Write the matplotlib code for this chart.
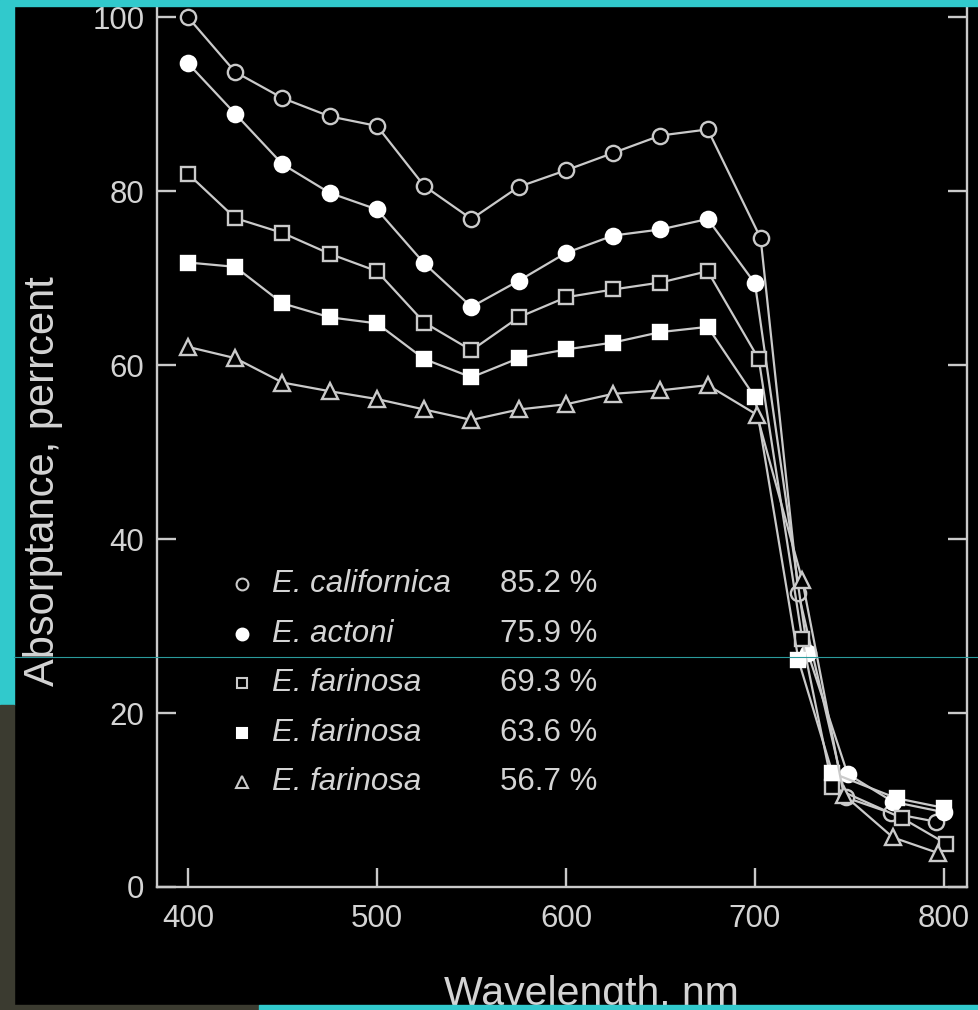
import numpy as np
import matplotlib
matplotlib.use('Agg')
import matplotlib.pyplot as plt
from matplotlib.patches import Rectangle
from matplotlib.lines import Line2D

########################################################################
# DATA
########################################################################
wl_visible = [400, 425, 450, 475, 500, 525, 550, 575, 600, 625, 650, 675]

wl_californica = wl_visible + [703, 723, 748, 772, 796]
abs_californica = [100.0, 93.7, 90.7, 88.6, 87.5, 80.6, 76.8, 80.5, 82.4, 84.4, 86.4, 87.1,
                   74.6, 33.8, 10.3, 8.5, 7.5]

wl_actoni = wl_visible + [700, 728, 749, 773, 800]
abs_actoni = [94.7, 88.9, 83.1, 79.8, 77.9, 71.7, 66.7, 69.7, 72.9, 74.9, 75.6, 76.8,
              69.4, 26.9, 13.0, 9.8, 8.6]

wl_farinosa_1 = wl_visible + [702, 725, 741, 778, 801]
abs_farinosa_1 = [82.0, 76.9, 75.2, 72.8, 70.8, 64.9, 61.7, 65.5, 67.8, 68.7, 69.5, 70.8,
                  60.7, 28.5, 11.5, 7.9, 5.0]

wl_farinosa_2 = wl_visible + [700, 723, 741, 775, 800]
abs_farinosa_2 = [71.8, 71.3, 67.1, 65.5, 64.8, 60.7, 58.6, 60.8, 61.8, 62.6, 63.8, 64.4,
                  56.3, 26.1, 13.1, 10.2, 9.1]

wl_farinosa_3 = wl_visible + [701, 725, 747, 773, 797]
abs_farinosa_3 = [62.1, 60.8, 58.0, 57.0, 56.1, 54.9, 53.7, 54.9, 55.5, 56.7, 57.1, 57.7,
                  54.3, 35.3, 10.6, 5.7, 3.9]

species = ['E. californica', 'E. actoni', 'E. farinosa', 'E. farinosa', 'E. farinosa']
mean_absorptance = [85.2, 75.9, 69.3, 63.6, 56.7]

x_ticks = [400, 500, 600, 700, 800]
y_ticks = [0, 20, 40, 60, 80, 100]

########################################################################
# STYLE
########################################################################
plt.rcParams['font.family'] = ['Liberation Sans', 'DejaVu Sans']
fg = '#d4d4d4'
line_col = '#cacaca'
cyan = '#31c9cc'

# marker, face, size for each series
styles = [('o', 'black', 11), ('o', 'white', 11), ('s', 'black', 10),
          ('s', 'white', 10), ('^', 'black', 11)]
series = [(wl_californica, abs_californica), (wl_actoni, abs_actoni),
          (wl_farinosa_1, abs_farinosa_1), (wl_farinosa_2, abs_farinosa_2),
          (wl_farinosa_3, abs_farinosa_3)]

fig = plt.figure(figsize=(9.79, 10.10), dpi=100)
fig.patch.set_facecolor('black')
ax = fig.add_axes([157 / 979, (1010 - 887) / 1010, 810 / 979, 895 / 1010])
ax.set_facecolor('black')

for (wl, ab), (mk, face, ms) in zip(series, styles):
    edge = 'white' if face == 'white' else line_col
    ax.plot(wl, ab, color=line_col, lw=1.6, marker=mk, ms=ms,
            mfc=face, mec=edge, mew=1.7, zorder=3)

ax.set_xlim(383.6, 812.2)
ax.set_ylim(0, 102.9)
ax.set_xticks(x_ticks)
ax.set_yticks(y_ticks)

for side in ['left', 'bottom', 'right']:
    ax.spines[side].set_color(line_col)
    ax.spines[side].set_linewidth(1.7)
ax.spines['top'].set_visible(False)

ax.tick_params(axis='both', direction='in', length=14, width=1.7, color=line_col,
               labelcolor=fg, labelsize=22.5)
ax.tick_params(axis='y', right=True, pad=9)
ax.tick_params(axis='x', pad=12)

########################################################################
# LEGEND (drawn by hand: marker, name, mean value)
########################################################################
row0 = (887 - 587) / 887
step = 49 / 887
for i, (name, val) in enumerate(zip(species, mean_absorptance)):
    mk, face, ms = styles[i]
    y = row0 - i * step
    edge = 'white' if face == 'white' else line_col
    ax.add_line(Line2D([(242 - 157) / 810], [y], transform=ax.transAxes, marker=mk,
                       ms=ms - 2.5, mfc=face, mec=edge, mew=1.5, ls='none'))
    ax.text((272 - 157) / 810, y, name, transform=ax.transAxes, color=fg,
            fontsize=22.5, fontstyle='italic', va='center', ha='left')
    ax.text((500 - 157) / 810, y, '%.1f %%' % val, transform=ax.transAxes, color=fg,
            fontsize=22.5, va='center', ha='left')

fig.text(43 / 979, 1 - 481 / 1010, 'Absorptance, perrcent', rotation=90,
         color=fg, fontsize=30, ha='center', va='center')
fig.text(591 / 979, 1 - 975 / 1010, 'Wavelength, nm', color=fg, fontsize=29.5,
         ha='center', va='top')

########################################################################
# slide frame around the photo
########################################################################
fig.patches.append(Rectangle((0, 1 - 6 / 1010), 1, 6 / 1010, transform=fig.transFigure,
                             color=cyan, zorder=5))
fig.patches.append(Rectangle((0, 1 - 705 / 1010), 14 / 979, 705 / 1010,
                             transform=fig.transFigure, color=cyan, zorder=5))
fig.patches.append(Rectangle((0, 0), 14 / 979, 1 - 705 / 1010, transform=fig.transFigure,
                             color='#3b3b30', zorder=5))
fig.patches.append(Rectangle((0, 0), 259 / 979, 5 / 1010, transform=fig.transFigure,
                             color='#3b3b30', zorder=5))
fig.patches.append(Rectangle((259 / 979, 0), 1, 5 / 1010, transform=fig.transFigure,
                             color=cyan, zorder=5))
fig.add_artist(Line2D([14 / 979, 1], [1 - 657 / 1010, 1 - 657 / 1010],
                      transform=fig.transFigure, color='#2a9a9c', lw=0.8, zorder=6))

fig.savefig('out.png', dpi=100, facecolor='black')
